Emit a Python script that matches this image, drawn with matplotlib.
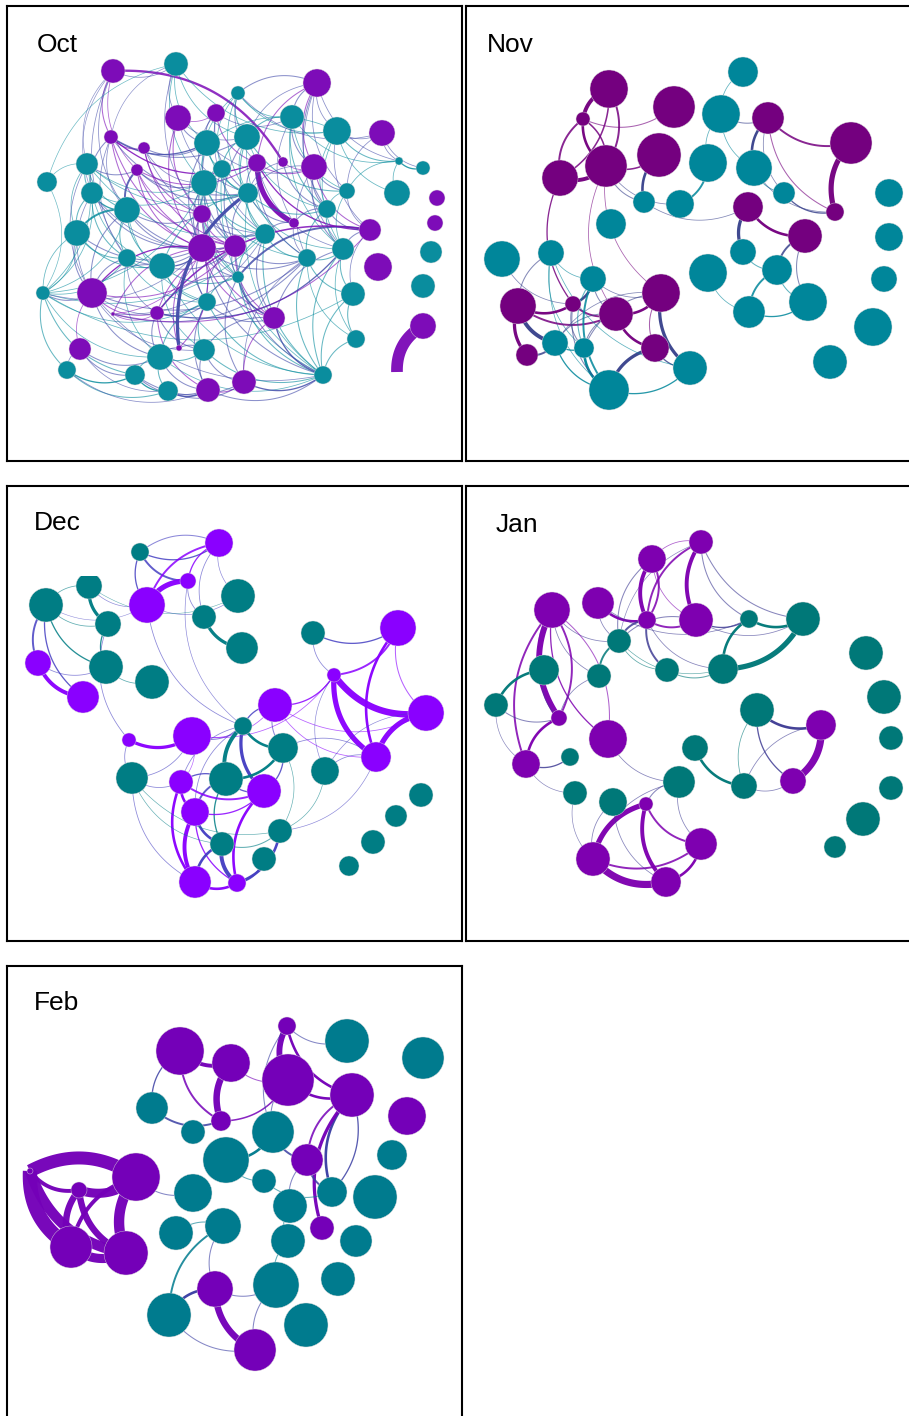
import numpy as np
import matplotlib
matplotlib.use("Agg")
import matplotlib.pyplot as plt
from matplotlib.patches import Circle, Rectangle
from matplotlib.colors import to_rgb

# ---- node tables (panel-local pixel coords, radius, group P=purple / T=teal) ----
oct_x = [106, 169, 310, 231, 171, 209, 285, 330, 375, 104,
         137, 200, 240, 80, 130, 215, 250, 276, 307, 392,
         416, 40, 85, 197, 241, 340, 390, 430, 120, 195,
         320, 287, 428, 70, 258, 363, 120, 155, 195, 228,
         300, 336, 424, 231, 371, 36, 85, 346, 416, 150,
         200, 267, 106, 349, 416, 390, 73, 153, 197, 172,
         60, 128, 316, 161, 201, 237]
oct_y = [65, 58, 77, 87, 112, 107, 111, 125, 127, 131,
         142, 137, 131, 158, 164, 163, 157, 156, 161, 155,
         162, 176, 187, 177, 187, 185, 187, 192, 204, 208,
         203, 217, 217, 227, 228, 224, 252, 260, 242, 240,
         252, 243, 246, 271, 261, 287, 287, 288, 280, 307,
         296, 312, 308, 333, 320, 366, 343, 351, 344, 342,
         364, 369, 369, 385, 384, 376]
oct_r = [12, 12, 14, 7, 13, 9, 12, 14, 13, 7,
         6, 13, 13, 11, 6, 9, 9, 5, 13, 4,
         7, 10, 11, 13, 10, 8, 13, 8, 13, 9,
         9, 5, 8, 13, 10, 11, 9, 13, 14, 11,
         9, 11, 11, 6, 14, 7, 15, 12, 12, 7,
         9, 11, 2, 9, 13, 0, 11, 13, 11, 3,
         9, 10, 9, 10, 12, 12]
oct_g = "PTPTPPTTPP" "PTTTPTPPPT" "TTTTTTTPTP" "TPPTTPTTPP" "TTTTPTPTTP" "TPPTPPPTTP" "TTTTPP"

oct_edges = [
    (0, 1, .6), (0, 9, .8), (0, 14, .6), (0, 22, .5), (17, 0, 1.8), (0, 13, .5),
    (0, 28, .6), (0, 36, .6),
    (1, 4, .6), (1, 12, .6), (1, 7, .6), (1, 9, .5), (1, 21, .5), (1, 29, .6),
    (1, 11, .6), (1, 23, .6),
    (2, 3, .8), (2, 6, .8), (2, 7, .6), (2, 12, .6), (2, 19, .6), (2, 16, .8), (2, 25, .6), (2, 30, .8),
    (2, 18, .8), (2, 41, .6),
    (3, 12, .8), (3, 7, .6), (3, 8, .6), (3, 15, .6), (3, 6, .6), (3, 23, .6), (3, 24, .6), (3, 16, .6),
    (4, 11, .8), (4, 12, .6), (4, 38, .8), (4, 5, .6), (4, 29, .8), (4, 24, .6),
    (5, 11, .8), (5, 16, .8), (5, 6, .6), (5, 23, .6), (5, 24, .8), (5, 34, .6),
    (6, 12, .8), (6, 19, .6), (6, 18, .8), (6, 31, .6), (6, 25, .6), (6, 30, .8), (6, 41, .6),
    (7, 19, .8), (7, 8, .6), (7, 30, .6), (7, 11, .6), (7, 26, .6), (7, 35, .6), (7, 41, .6),
    (8, 19, .6), (8, 20, .6), (8, 25, .6),
    (9, 11, 1.0), (9, 10, .8), (9, 12, .8), (9, 16, 1.0), (9, 22, .8), (9, 28, .6), (9, 36, .6),
    (9, 38, .8), (9, 39, .8), (9, 24, .8),
    (10, 11, .8), (10, 23, .6), (10, 29, .8), (10, 39, .8), (10, 34, .6),
    (11, 24, .8), (11, 15, .8), (11, 18, .6), (11, 39, .8), (11, 38, .8), (11, 43, .6),
    (12, 15, .8), (12, 24, .6), (12, 30, .6), (12, 25, .8), (12, 39, .8), (12, 34, .8), (12, 40, .6),
    (13, 14, .8), (13, 22, .8), (13, 28, .8), (13, 21, .5), (13, 23, .6), (13, 24, .6),
    (13, 34, .6), (13, 33, .6), (13, 46, .6),
    (14, 28, 1.5), (14, 23, .8), (14, 24, .8), (14, 16, .8), (14, 29, .6), (14, 38, .8), (14, 39, .8),
    (15, 24, .8), (15, 23, .8), (15, 34, .8), (15, 38, .8), (15, 62, .6), (15, 39, .8),
    (16, 31, 4.0), (16, 24, .8), (16, 18, .8), (16, 35, 1.0), (16, 40, .8), (16, 41, .6),
    (17, 18, .6), (17, 24, .6), (17, 30, .8),
    (18, 25, .8), (18, 30, .8), (18, 24, .6), (18, 35, .8), (18, 41, .8), (18, 40, .6),
    (19, 20, 1.0), (19, 25, .6), (19, 26, .6),
    (22, 28, 1.0), (22, 33, .8), (22, 23, .6), (22, 36, .8), (22, 46, .6), (22, 37, .6),
    (22, 38, .8), (22, 39, .6),
    (23, 29, .8), (23, 24, .8), (23, 38, .8), (23, 34, .8), (23, 40, .6), (23, 39, .8), (23, 43, .8),
    (23, 62, .6),
    (24, 34, .8), (24, 31, .8), (24, 30, .8), (24, 37, .8), (24, 39, .8), (24, 41, .6), (24, 62, .6),
    (25, 30, .6), (25, 35, .6), (25, 41, .6),
    (28, 33, 1.5), (28, 29, .8), (28, 37, .8), (28, 36, .8), (28, 38, .8), (28, 46, .8),
    (28, 50, .6), (28, 39, .8),
    (29, 38, .8), (29, 39, .8), (29, 34, .8), (29, 43, .6), (29, 50, .8), (29, 51, .8),
    (30, 31, .8), (30, 40, .8), (30, 41, .8), (30, 35, .8),
    (31, 34, .8), (31, 40, .6),
    (33, 46, .8), (33, 36, .8), (33, 45, .6), (33, 38, .8), (33, 37, .8),
    (34, 40, .8), (34, 39, .8), (34, 43, .8), (34, 51, .8), (34, 62, .8),
    (35, 41, .8), (35, 43, 1.5), (35, 49, 1.2), (35, 47, .6),
    (36, 37, .8), (36, 46, .8), (36, 49, .6), (36, 57, .6), (36, 50, .6), (36, 38, .8),
    (37, 38, 1.0), (37, 50, .8), (37, 46, .8), (37, 43, .8), (37, 58, .6), (37, 39, .8), (37, 62, .6),
    (38, 39, 1.0), (38, 43, .8), (38, 50, .8), (38, 46, 1.0), (38, 59, .8), (38, 52, .8),
    (38, 40, .8), (38, 51, .8), (38, 62, .8),
    (39, 43, .8), (39, 40, .8), (39, 50, .8), (39, 51, .8), (39, 49, .8), (39, 62, .8),
    (40, 41, .8), (40, 47, .8), (40, 62, .8), (40, 53, .6), (40, 65, .6),
    (41, 47, .8), (41, 53, .6), (41, 62, .8), (41, 51, .8),
    (43, 51, 1.0), (43, 50, .8), (43, 62, .8), (43, 49, .8), (43, 65, .8),
    (45, 21, .5), (45, 13, .6), (45, 22, .6), (45, 28, .6), (45, 34, .6), (45, 23, .6), (45, 38, .6),
    (45, 46, .8), (45, 50, .6), (45, 47, .6), (45, 60, .8), (45, 61, .8), (45, 36, .6), (45, 33, .6),
    (45, 57, .6),
    (46, 39, .8), (46, 40, .8), (46, 49, .8), (46, 57, .8), (46, 62, .6), (46, 56, .6),
    (46, 50, .6), (46, 58, .6),
    (47, 53, .8), (47, 62, .8),
    (49, 50, .8), (49, 58, .8), (49, 57, .8), (49, 64, .8), (49, 41, 1.0),
    (50, 58, .8), (50, 57, .8), (50, 62, .8), (50, 64, .8), (50, 51, .8),
    (51, 62, 1.0), (51, 58, .8), (51, 65, .8),
    (52, 40, .8), (52, 35, .8), (52, 34, .6), (52, 49, .6), (52, 38, .6),
    (53, 62, .8),
    (54, 55, 9),
    (56, 61, .8), (56, 57, .8), (56, 60, .6), (56, 63, .6),
    (57, 58, .8), (57, 61, .8), (57, 63, .8), (57, 64, .8), (57, 62, .6),
    (58, 64, .8), (58, 65, .8), (58, 62, .8), (58, 59, .8),
    (24, 59, 2.5), (59, 38, .8), (59, 57, .8),
    (60, 61, 1.0), (60, 63, .8), (60, 64, .6),
    (61, 63, 1.0), (61, 64, .8), (61, 65, .8),
    (63, 64, 1.0), (63, 65, .8), (64, 65, .8), (64, 62, .8), (65, 62, 1.0),
]

nov_x = [143, 208, 277, 255, 302, 385, 117, 94, 140, 193,
         242, 288, 318, 369, 178, 214, 282, 423, 145, 339,
         423, 36, 85, 277, 242, 127, 311, 418, 52, 107,
         150, 195, 342, 283, 407, 61, 89, 118, 189, 364,
         143, 224]
nov_y = [83, 101, 66, 108, 112, 137, 113, 172, 160, 149,
         157, 162, 187, 206, 196, 198, 201, 187, 218, 230,
         231, 253, 247, 246, 267, 273, 264, 273, 300, 298,
         308, 287, 296, 306, 321, 349, 337, 342, 342, 356,
         384, 362]
nov_r = [19, 21, 15, 19, 16, 21, 7, 18, 21, 22,
         19, 18, 11, 9, 11, 14, 15, 14, 15, 17,
         14, 18, 13, 13, 19, 13, 15, 13, 18, 8,
         17, 19, 19, 16, 19, 11, 13, 10, 14, 17,
         20, 17]
nov_g = "PPTTPPPPPP" "TTTPTTPTTP" "TTTTTTTTPP" "PPTTTPTTPT" "TT"

nov_edges = [
    (0, 6, 3), (6, 8, 2), (6, 7, 1.5), (7, 8, 3), (7, 0, 1.2), (8, 0, 1.5), (8, 6, 1.2),
    (6, 1, .8), (8, 9, 1.2), (8, 14, .8), (8, 15, .6), (9, 14, 2), (15, 10, 1.5),
    (3, 10, .6), (2, 3, .6), (3, 4, .8), (4, 11, 2), (4, 12, .6), (4, 13, .8), (4, 5, 1.5),
    (5, 13, 4), (12, 13, 1), (11, 12, .8), (11, 13, .6), (14, 16, .6), (3, 11, .6),
    (16, 23, 2.5), (16, 19, 2), (19, 26, 1.5), (23, 26, .8), (26, 33, 1.5), (33, 32, 1),
    (26, 32, .8), (19, 32, .8), (24, 33, .6),
    (7, 29, 1), (8, 31, .6), (8, 30, .6),
    (22, 28, .8), (22, 25, .6), (22, 37, .6), (22, 40, .6), (21, 29, .6),
    (28, 29, 2), (28, 30, 1.5), (28, 35, 2.5), (28, 36, 3), (29, 25, 2), (29, 30, 1.5),
    (29, 37, .8), (30, 31, 2), (30, 38, 2), (30, 37, .8), (30, 36, .8), (31, 41, 2.5),
    (31, 38, .8), (31, 37, .8), (31, 36, .6), (38, 40, 2.5), (38, 41, 1), (37, 40, 2),
    (25, 40, 1.5), (36, 40, 1), (40, 41, 1), (22, 41, .6), (35, 36, 1.5), (36, 37, 1),
    (25, 37, .8), (29, 40, .8), (25, 30, .8), (25, 31, .6),
]

dec_x = [133, 212, 181, 82, 39, 140, 231, 197, 101, 235,
         306, 391, 31, 99, 145, 76, 327, 268, 419, 236,
         185, 122, 276, 369, 318, 125, 174, 219, 257, 414,
         188, 389, 273, 366, 215, 257, 342, 188, 230]
dec_y = [66, 57, 95, 100, 119, 119, 110, 131, 138, 162,
         147, 142, 177, 181, 196, 211, 189, 219, 227, 240,
         250, 254, 262, 271, 285, 292, 296, 293, 305, 309,
         326, 330, 345, 356, 358, 373, 380, 396, 397]
dec_r = [9, 14, 8, 13, 17, 18, 17, 12, 13, 16,
         12, 18, 13, 17, 17, 16, 7, 17, 18, 9,
         19, 7, 15, 15, 14, 16, 12, 17, 17, 12,
         14, 11, 12, 12, 12, 12, 10, 16, 9]
dec_g = "TPPTTPTTTT" "TPPTTPPPPT" "PPTPTTPTPT" "PTTTTTTPP"

dec_edges = [
    (0, 1, 1), (1, 0, .8), (0, 2, 1.5), (0, 5, 1), (1, 5, 1.5), (1, 2, 1), (1, 7, .6),
    (1, 6, .5), (2, 7, .6), (5, 6, .5), (2, 5, 4),
    (7, 9, 2.5), (3, 4, .6), (3, 8, 2.5), (4, 8, .6), (4, 12, 1.5), (4, 15, 1), (4, 13, 1),
    (12, 15, 3), (12, 13, .6), (8, 13, 1), (13, 14, .6), (3, 5, .5), (4, 5, .4),
    (5, 19, .6), (2, 19, .5), (8, 21, .6), (3, 6, .4),
    (21, 20, 2.5), (21, 25, .6), (20, 19, .8), (20, 17, .6),
    (10, 11, 1), (10, 16, .6), (16, 11, 1.5), (16, 18, 5), (16, 23, 4), (11, 18, .8),
    (11, 23, 2), (18, 23, 4), (17, 18, .6), (17, 16, 1), (17, 23, .6), (17, 19, 1),
    (17, 22, .8), (23, 22, .6), (23, 24, .6), (18, 24, .5), (16, 24, .5), (20, 16, .6),
    (19, 27, 3), (19, 22, 2), (19, 28, 2.5), (19, 26, .6), (19, 30, .6),
    (27, 22, 2), (27, 26, 1), (27, 28, 1), (27, 30, 1.5), (27, 34, 1),
    (26, 30, 2), (26, 28, 1.5), (26, 37, 2), (25, 26, .6),
    (30, 37, 3), (30, 34, 2), (30, 38, 1), (30, 28, 1),
    (34, 37, 2), (34, 38, 3), (34, 32, .8),
    (37, 38, 2), (38, 35, 1.5), (38, 32, 2), (28, 38, 2),
    (25, 37, .6), (25, 32, .5), (25, 20, .6), (32, 22, .5), (32, 24, .5), (32, 23, .5),
    (28, 22, 1), (26, 20, .5), (25, 34, .5),
]

jan_x = [235, 186, 132, 86, 181, 230, 283, 337, 153, 78,
         133, 201, 257, 400, 30, 418, 291, 355, 93, 142,
         229, 425, 60, 104, 213, 278, 327, 425, 109, 147,
         180, 397, 235, 127, 369, 200]
jan_y = [56, 73, 117, 124, 134, 134, 133, 133, 155, 184,
         190, 184, 183, 167, 219, 211, 224, 239, 232, 253,
         262, 252, 278, 271, 296, 300, 295, 302, 307, 316,
         318, 333, 358, 373, 361, 396]
jan_r = [12, 14, 16, 18, 9, 17, 9, 17, 12, 15,
         12, 12, 15, 17, 12, 17, 17, 15, 8, 19,
         13, 12, 14, 9, 16, 13, 13, 12, 12, 14,
         7, 17, 16, 17, 11, 15]
jan_g = "PPPPPPTTTT" "TTTTTTTPPP" "TTPTTTPTTT" "PTPPTP"

jan_edges = [
    (0, 1, .6), (0, 5, 3), (0, 4, 1.5), (0, 7, .8), (0, 6, .8), (0, 8, .5),
    (1, 4, 3), (4, 1, 1.5), (1, 5, .6), (1, 8, .8),
    (2, 4, 2), (2, 8, .6), (2, 6, .6), (4, 5, 1.5), (4, 8, 1.5), (4, 11, 1.5), (4, 12, .6),
    (5, 6, 1), (5, 7, .6), (5, 8, .8),
    (6, 7, 2), (6, 12, 2), (12, 7, 4), (8, 12, .5), (11, 12, .8), (8, 10, 1.5),
    (3, 8, .6), (3, 9, .6), (3, 10, .6), (8, 11, .6),
    (3, 18, 4.5), (18, 3, 1.5), (3, 22, 1.5), (3, 19, 1), (19, 3, .8),
    (9, 14, 2), (9, 18, .6), (14, 18, .8), (14, 22, .5), (18, 22, 2), (22, 23, 1),
    (22, 28, .5), (10, 18, .6), (19, 24, .6),
    (16, 17, 2), (16, 25, .6), (16, 26, 1), (26, 17, 5.5), (17, 25, .6), (20, 25, 2), (25, 26, .6),
    (24, 30, .8), (24, 33, .6), (24, 32, .6), (30, 33, 4), (30, 35, 3), (30, 32, 1.5),
    (33, 35, 5.5), (33, 32, 1.5), (35, 32, 2), (29, 35, .6), (29, 33, .6), (28, 33, .5),
]

feb_x = [280, 340, 416, 173, 224, 281, 345, 145, 214, 186,
         266, 400, 219, 300, 385, 129, 72, 23, 257, 186,
         325, 368, 283, 315, 169, 216, 64, 119, 281, 349,
         269, 331, 208, 162, 299, 248]
feb_y = [60, 75, 92, 85, 97, 114, 129, 142, 155, 166,
         166, 150, 194, 194, 189, 211, 224, 205, 215, 227,
         226, 231, 240, 262, 267, 260, 281, 287, 275, 275,
         319, 313, 323, 349, 359, 384]
feb_r = [9, 22, 21, 24, 19, 26, 22, 16, 10, 12,
         21, 19, 23, 16, 15, 24, 8, 3, 12, 19,
         15, 22, 17, 12, 17, 18, 21, 22, 17, 16,
         23, 17, 18, 22, 22, 21]
feb_g = "PTTPPPPTPT" "TPTPTPPPTT" "TTTPTTPPTT" "TTPTTP"

feb_edges = [
    (15, 17, 10), (17, 26, 11), (17, 27, 8), (16, 15, 7), (16, 26, 5), (16, 27, 5),
    (15, 27, 8), (26, 27, 7), (15, 26, 3), (17, 16, 3), (15, 19, .8),
    (3, 4, 3), (4, 8, 5), (3, 8, 1.5), (3, 7, 1), (7, 8, 1.5), (4, 5, .8), (8, 5, 1.2),
    (0, 5, 4.5), (0, 6, 2), (0, 1, .8), (0, 10, .8), (5, 6, 2), (5, 10, .8),
    (6, 20, 2), (20, 6, 1), (6, 23, 2.5), (6, 13, 1.5), (10, 13, 1.5), (12, 10, 2),
    (12, 18, .8), (18, 20, .8), (13, 20, 1.5), (13, 22, .8),
    (25, 24, .8), (25, 33, 1.5), (25, 32, .8), (32, 33, 2), (32, 35, 5), (32, 30, .8),
    (33, 35, .8), (30, 35, .8), (22, 28, .8), (28, 30, .8),
]

labels = ["Oct", "Nov", "Dec", "Jan", "Feb"]
purples = ["#7D0CB8", "#74007F", "#8A00FF", "#7E00B0", "#7400B8"]
teals = ["#0A8D9E", "#00869A", "#007D84", "#007878", "#007B8E"]

W, H = 909, 1416
BOX = 455
CURVE = 0.3
WSCALE = 1.3

fig = plt.figure(figsize=(W / 100, H / 100), dpi=100)


def draw_panel(x0, y0, label, lab_xy, xs, ys, rs, gs, edges, pcol, tcol, mask=None):
    ax = fig.add_axes([x0 / W, 1 - (y0 + BOX) / H, BOX / W, BOX / H])
    ax.set_xlim(0, BOX)
    ax.set_ylim(BOX, 0)
    ax.set_xticks([])
    ax.set_yticks([])
    for s in ax.spines.values():
        s.set_linewidth(1.5)
        s.set_color("black")
    cols = {"P": np.array(to_rgb(pcol)), "T": np.array(to_rgb(tcol))}
    t = np.linspace(0, 1, 40)
    for i, j, w in edges:
        ax_, ay_, bx_, by_ = xs[i], ys[i], xs[j], ys[j]
        dx, dy = bx_ - ax_, by_ - ay_
        cx = (ax_ + bx_) / 2 - dy * CURVE
        cy = (ay_ + by_) / 2 + dx * CURVE
        px = (1 - t) ** 2 * ax_ + 2 * (1 - t) * t * cx + t ** 2 * bx_
        py = (1 - t) ** 2 * ay_ + 2 * (1 - t) * t * cy + t ** 2 * by_
        c = (cols[gs[i]] + cols[gs[j]]) / 2
        alpha = 0.62 if w < 1 else (0.85 if w < 2 else 0.97)
        ax.plot(px, py, color=c, lw=w * 0.72 * WSCALE, alpha=alpha,
                solid_capstyle="butt", zorder=1)
    for x, y, r, g in zip(xs, ys, rs, gs):
        if r > 0:
            ax.add_patch(Circle((x, y), r, fc=cols[g], ec="#d8d8d8",
                                lw=0.3, zorder=2))
    if mask is not None:
        ax.add_patch(Rectangle(mask[:2], mask[2], mask[3], fc="white",
                               ec="none", zorder=3))
    ax.text(lab_xy[0], lab_xy[1], label, fontsize=19, family="Liberation Sans",
            ha="left", va="center", zorder=5)


draw_panel(7, 6, labels[0], (30, 39), oct_x, oct_y, oct_r, oct_g, oct_edges,
           purples[0], teals[0])
draw_panel(466, 6, labels[1], (21, 39), nov_x, nov_y, nov_r, nov_g, nov_edges,
           purples[1], teals[1])
draw_panel(7, 486, labels[2], (27, 37), dec_x, dec_y, dec_r, dec_g, dec_edges,
           purples[2], teals[2], mask=(13, 2, 100, 88))
draw_panel(466, 486, labels[3], (30, 39), jan_x, jan_y, jan_r, jan_g, jan_edges,
           purples[3], teals[3])
draw_panel(7, 966, labels[4], (27, 37), feb_x, feb_y, feb_r, feb_g, feb_edges,
           purples[4], teals[4])

fig.savefig("out.png", dpi=100)
